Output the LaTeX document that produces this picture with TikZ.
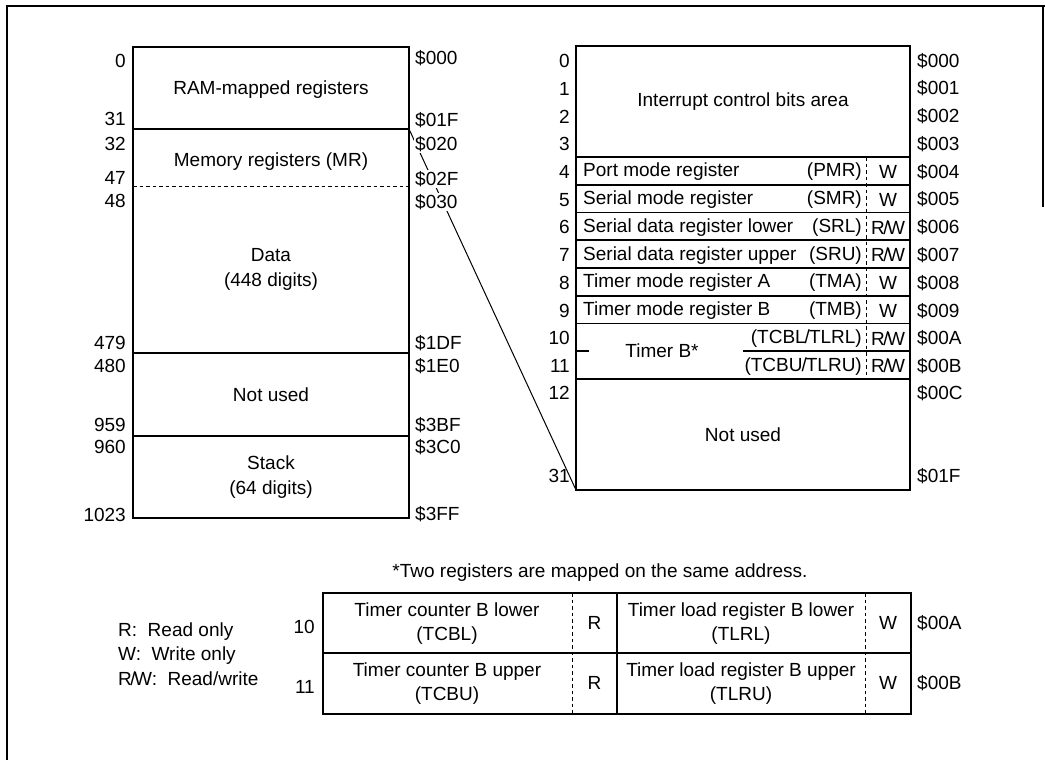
\documentclass[tikz,border=0pt]{standalone}
\usepackage{fontspec}
\setmainfont{Liberation Sans}
\newcommand{\fs}{\fontsize{19}{23}\selectfont}
\newcommand{\RW}{R\kern-1.5pt/\kern-1.5pt W}
\begin{document}
\begin{tikzpicture}[x=1pt,y=-1pt,
  lbl/.style={inner sep=0pt, font=\fs},
  num/.style={lbl, anchor=east},
  adr/.style={lbl, anchor=west, fill=white, inner sep=1pt},
  ctr/.style={lbl, align=center},
  boxline/.style={line width=1.6pt},
  sepdash/.style={line width=1pt, dash pattern=on 3.5pt off 3pt},
  frameline/.style={line width=1.6pt},
  conn/.style={line width=1pt}]
\useasboundingbox (0,0) rectangle (1045,760);
\fill[white] (0,0) rectangle (1045,760);
% frame
\draw[frameline] (7,760) -- (7,6) -- (1045,6);
\draw[frameline] (1043,6) -- (1043,207);

% ---------- left table ----------
\coordinate (ltl) at (133,47);
\coordinate (lbr) at (409,518);
\coordinate (mrc) at (409,129);
\draw[boxline] (ltl) rectangle (lbr);
\draw[boxline] (133,129) -- (mrc);
\draw[sepdash] (133,186) -- (409,186);
\draw[boxline] (133,353) -- (409,353);
\draw[boxline] (133,436) -- (409,436);

% right table corner for connector
\coordinate (rbl) at (576,490);
\draw[conn] (mrc) -- (rbl);

\node[ctr] (ram) at (271,90) {RAM-mapped registers};
\node[ctr] (mr) at (271,162) {Memory registers (MR)};
\node[ctr] (data) at (271,269) {Data\\[2pt](448 digits)};
\node[ctr] (nu1) at (271,395) {Not used};
\node[ctr] (stack) at (271,477) {Stack\\[2pt](64 digits)};

\foreach \t/\y [count=\i] in {0/61,31/119,32/144,47/178,48/201,479/343,480/366,959/425,960/447,1023/515}
  \node[num] (ln\i) at (126,\y) {\t};
\foreach \t/\y [count=\i] in {000/58,01F/120,020/144,02F/179,030/202,1DF/343,1E0/366,3BF/425,3C0/447,3FF/514}
  \node[adr] (la\i) at (414,\y) {\$\t};

% ---------- right table ----------
\def\h{27.75}
\draw[boxline] (576,46) rectangle (910,490);
\foreach \k in {4,...,10,12}
  \draw[boxline] (576,{46+\k*\h}) -- (910,{46+\k*\h});
\draw[boxline] (743,{46+11*\h}) -- (910,{46+11*\h});
\draw[boxline] (576,{46+11*\h}) -- (589,{46+11*\h});
\draw[sepdash] (866,{46+4*\h}) -- (866,{46+12*\h});

\node[ctr] (icb) at (743,102) {Interrupt control bits area};
\foreach \k in {0,...,11}
  \node[num] (rn\k) at (570,{47+(\k+0.5)*\h}) {\k};
\node[num] (rn12) at (570,393) {12};
\node[num] (rn31) at (570,476) {31};
\foreach \t [count=\k from 0] in {000,001,002,003,004,005,006,007,008,009,00A,00B}
  \node[adr] (ra\k) at (916,{47+(\k+0.5)*\h}) {\$\t};
\node[adr] (ra12) at (916,393) {\$00C};
\node[adr] (ra31) at (916,476) {\$01F};

\foreach \k/\nm/\ab/\ac in {4/Port mode register/PMR/W,5/Serial mode register/SMR/W,
  6/Serial data register lower/SRL/\RW,7/Serial data register upper/SRU/\RW,
  8/Timer mode register A/TMA/W,9/Timer mode register B/TMB/W}{
  \node[lbl, anchor=west] (nm\k) at (583,{47+(\k+0.5)*\h}) {\nm};
  \node[lbl, anchor=east] (ab\k) at (862,{47+(\k+0.5)*\h}) {(\ab)};
  \node[lbl] (ac\k) at (888,{47+(\k+0.5)*\h}) {\ac};
}
\node[lbl] (tb) at (662,351) {Timer B*};
\node[lbl, anchor=east] (ab10) at (862,{47+10.5*\h}) {(TCBL\kern-1pt/\kern-1pt TLRL)};
\node[lbl, anchor=east] (ab11) at (862,{47+11.5*\h}) {(TCBU\kern-1pt/\kern-1pt TLRU)};
\node[lbl] (ac10) at (888,{47+10.5*\h}) {\RW};
\node[lbl] (ac11) at (888,{47+11.5*\h}) {\RW};
\node[ctr] (nu2) at (743,435) {Not used};

% ---------- footnote ----------
\node[lbl] (note) at (600,573) {*Two registers are mapped on the same address.};

% ---------- bottom table ----------
\draw[boxline] (323,593) rectangle (911,714);
\draw[boxline] (323,653) -- (911,653);
\draw[boxline] (617,593) -- (617,714);
\draw[sepdash] (572,593) -- (572,714);
\draw[sepdash] (865,593) -- (865,714);

\node[num] (bn10) at (315,627) {10};
\node[num] (bn11) at (315,687) {11};
\node[ctr] (tcbl) at (447,624) {Timer counter B lower\\[1pt](TCBL)};
\node[ctr] (tcbu) at (447,684) {Timer counter B upper\\[1pt](TCBU)};
\node[lbl] (r10) at (594.5,623) {R};
\node[lbl] (r11) at (594.5,683) {R};
\node[ctr] (tlrl) at (741,624) {Timer load register B lower\\[1pt](TLRL)};
\node[ctr] (tlru) at (741,684) {Timer load register B upper\\[1pt](TLRU)};
\node[lbl] (w10) at (888,623) {W};
\node[lbl] (w11) at (888,683) {W};
\node[adr] (ba10) at (916,623) {\$00A};
\node[adr] (ba11) at (916,683) {\$00B};

% ---------- legend ----------
\node[lbl, anchor=west] (lg1) at (118,632) {R:\ \ Read only};
\node[lbl, anchor=west] (lg2) at (118,656) {W:\ \ Write only};
\node[lbl, anchor=west] (lg3) at (118,679) {\RW:\ \ Read/write};
\end{tikzpicture}
\end{document}
